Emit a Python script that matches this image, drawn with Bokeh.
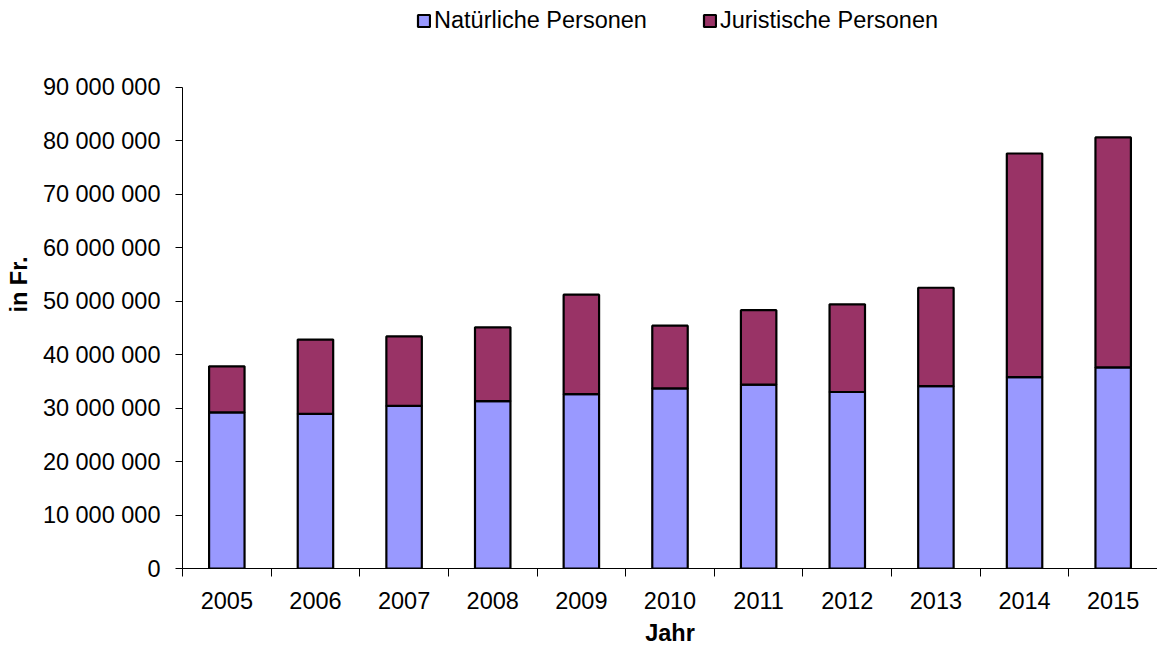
from bokeh.plotting import figure
from bokeh.models import ColumnDataSource, FixedTicker, Range1d
from bokeh.embed import file_html
from bokeh.resources import INLINE

years = [2005, 2006, 2007, 2008, 2009, 2010, 2011, 2012, 2013, 2014, 2015]
natuerliche = [29.2e6, 28.9e6, 30.4e6, 31.3e6, 32.6e6, 33.7e6, 34.4e6, 33.0e6, 34.1e6, 35.8e6, 37.6e6]
juristische = [8.6e6, 13.9e6, 13.0e6, 13.8e6, 18.6e6, 11.7e6, 13.9e6, 16.4e6, 18.4e6, 41.8e6, 43.0e6]
series_names = ["Natürliche Personen", "Juristische Personen"]
series_colors = ["#9999FF", "#993366"]
y_ticks = [0, 10_000_000, 20_000_000, 30_000_000, 40_000_000, 50_000_000,
           60_000_000, 70_000_000, 80_000_000, 90_000_000]

FONT = "Liberation Sans"
FS = "23.5px"
n = len(years)
src = ColumnDataSource(dict(x=list(range(n)), nat=natuerliche, jur=juristische))

H = 648
BOTTOM = 78
FRAME_H = H - BOTTOM
AXIS_TOP_PX = 87  # pixel row of the top tick
y_max = y_ticks[-1]
y_end = y_max * FRAME_H / (FRAME_H - AXIS_TOP_PX)

p = figure(width=1157, height=H, output_backend="svg", toolbar_location=None,
           x_range=Range1d(-0.5, n - 0.5), y_range=Range1d(0, y_end),
           min_border_left=182, min_border_right=0, min_border_top=0, min_border_bottom=BOTTOM)
p.outline_line_color = None
p.xgrid.visible = False
p.ygrid.visible = False

p.vbar_stack(["nat", "jur"], x="x", width=0.4, source=src, fill_color=series_colors,
             line_color="black", line_width=2.2, legend_label=series_names)

# x axis
xa = p.xaxis[0]
xa.ticker = FixedTicker(ticks=list(range(n)), minor_ticks=[i - 0.5 for i in range(n + 1)])
xa.major_label_overrides = {i: str(y) for i, y in enumerate(years)}
xa.major_tick_in = 0
xa.major_tick_out = 0
xa.minor_tick_in = 0
xa.minor_tick_out = 8
xa.minor_tick_line_color = "black"
xa.axis_line_color = "black"
xa.major_label_standoff = 15
xa.major_label_text_font = FONT
xa.major_label_text_font_size = FS
xa.major_label_text_color = "black"
xa.axis_label = "Jahr"
xa.axis_label_text_font = FONT
xa.axis_label_text_font_size = FS
xa.axis_label_text_font_style = "bold"
xa.axis_label_text_color = "black"
xa.axis_label_standoff = 8

# y axis
ya = p.yaxis[0]
ya.ticker = FixedTicker(ticks=y_ticks, minor_ticks=[])
ya.bounds = (0, y_max)
ya.major_label_overrides = {t: f"{t:,}".replace(",", " ") for t in y_ticks}
ya.major_tick_in = 0
ya.major_tick_out = 7
ya.major_tick_line_color = "black"
ya.minor_tick_line_color = None
ya.axis_line_color = "black"
ya.major_label_standoff = 15
ya.major_label_text_font = FONT
ya.major_label_text_font_size = FS
ya.major_label_text_color = "black"
ya.axis_label = "in Fr."
ya.axis_label_text_font = FONT
ya.axis_label_text_font_size = FS
ya.axis_label_text_font_style = "bold"
ya.axis_label_text_color = "black"
ya.axis_label_standoff = 8

# legend (inside the frame area above the top tick)
lg = p.legend[0]
lg.orientation = "horizontal"
lg.location = (234, FRAME_H - 36)
lg.border_line_color = None
lg.background_fill_alpha = 0
lg.padding = 0
lg.margin = 0
lg.spacing = 55
lg.glyph_width = 15
lg.glyph_height = 15
lg.label_standoff = 3
lg.label_text_font = FONT
lg.label_text_font_size = FS
lg.label_text_color = "black"

open("out.html", "w").write(file_html(p, INLINE))
